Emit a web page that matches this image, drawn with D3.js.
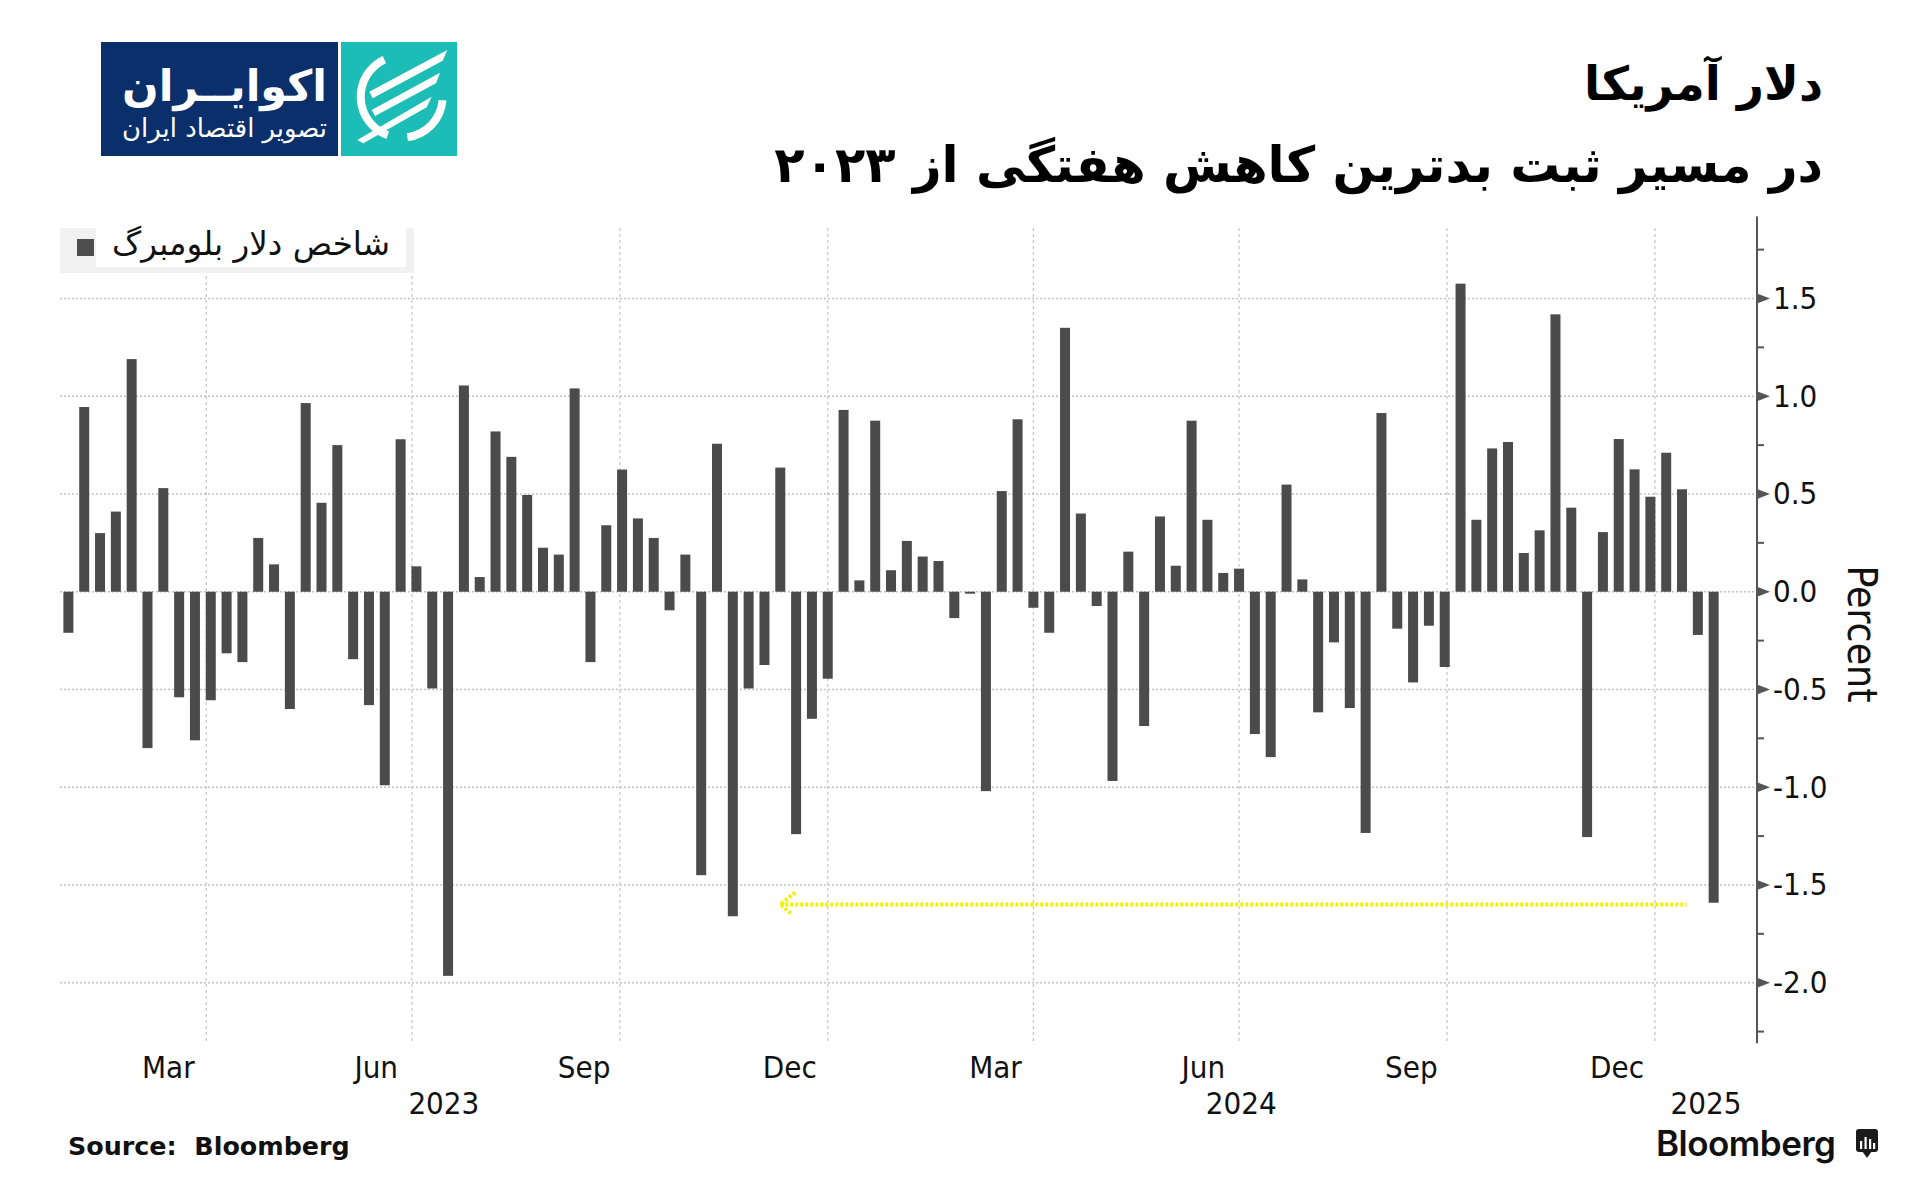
<!DOCTYPE html>
<html><head><meta charset="utf-8">
<script src="https://cdn.jsdelivr.net/npm/d3@7"></script>
<style>
html,body{margin:0;padding:0;background:#fff;}
svg{display:block;}
</style></head>
<body>
<svg id="chart" width="1920" height="1188"></svg>
<script>
// ---------------- data ----------------
const titleLine1 = "دلار آمریکا";
const titleLine2 = "در مسیر ثبت بدترین کاهش هفتگی از ۲۰۲۳";
const legendLabel = "شاخص دلار بلومبرگ";
const brandName = "اکوایــران";
const brandTagline = "تصویر اقتصاد ایران";
const sourceText = "Source:  Bloomberg";
const axisTitle = "Percent";
const brandMark = "Bloomberg";

// weekly change of the Bloomberg Dollar Spot Index, percent (first week below, one value per week)
const firstWeek = "2023-01-30";
const weeklyChange = [
  -0.21, 0.945, 0.30, 0.41, 1.19, -0.80, 0.53, -0.54, -0.76, -0.555,
  -0.315, -0.36, 0.275, 0.14, -0.60, 0.965, 0.455, 0.75, -0.345, -0.58,
  -0.99, 0.78, 0.13, -0.495, -1.965, 1.055, 0.075, 0.82, 0.69, 0.495,
  0.225, 0.19, 1.04, -0.36, 0.34, 0.625, 0.375, 0.275, -0.095, 0.19,
  -1.45, 0.757, -1.66, -0.495, -0.375, 0.635, -1.24, -0.65, -0.445, 0.93,
  0.058, 0.875, 0.11, 0.26, 0.18, 0.157, -0.135, -0.01, -1.02, 0.515,
  0.882, -0.082, -0.21, 1.35, 0.40, -0.073, -0.968, 0.205, -0.687, 0.385,
  0.133, 0.875, 0.368, 0.096, 0.118, -0.728, -0.846, 0.548, 0.063, -0.617,
  -0.259, -0.595, -1.234, 0.914, -0.189, -0.464, -0.174, -0.385, 1.576, 0.368,
  0.733, 0.766, 0.198, 0.314, 1.419, 0.43, -1.255, 0.305, 0.781, 0.626,
  0.486, 0.711, 0.524, -0.221, -1.591
];

const yTicks = [-2, -1.5, -1, -0.5, 0, 0.5, 1, 1.5];
const yMinorTicks = [-2.25, -1.75, -1.25, -0.75, -0.25, 0.25, 0.75, 1.25, 1.75];
const monthTicks = ["2023-03-15","2023-06-15","2023-09-15","2023-12-15","2024-03-15","2024-06-15","2024-09-15","2024-12-15"];
const quarterLines = ["2023-04-01","2023-07-01","2023-10-01","2024-01-01","2024-04-01","2024-07-01","2024-10-01","2025-01-01"];
const years = [2023, 2024, 2025];

const annotationLevel = -1.6;
const annotationFrom = "2023-12-11";
const annotationTo = "2025-01-15";

// ---------------- layout ----------------
const plotLeft = 60, axisX = 1757;
const gridTop = 228, plotBottom = 1043.3;

const svg = d3.select("#chart");

const x = d3.scaleUtc()
  .domain([new Date("2023-01-01"), new Date("2025-01-01")])
  .range([2.85, 1654.9]);
const y = d3.scaleLinear().domain([-2.31, 1.9]).range([1043.3, 220.3]);

const start = new Date(firstWeek);
const data = weeklyChange.map((v, i) => ({date: d3.utcDay.offset(start, 7 * i), value: v}));

const condensed = "'DejaVu Sans Condensed', 'DejaVu Sans', sans-serif";
const persian = "'DejaVu Sans', sans-serif";

function fitText(t, targetW, anchorX, side) {
  let fs = parseFloat(t.attr("font-size"));
  const w = t.node().getBBox().width;
  if (w > 0) { fs = fs * targetW / w; t.attr("font-size", fs); }
  const bb = t.node().getBBox();
  const cur = side === "right" ? bb.x + bb.width : bb.x;
  t.attr("x", parseFloat(t.attr("x")) + (anchorX - cur));
}

// ---------------- gridlines ----------------
const grid = svg.append("g");
grid.selectAll("line.h").data(yTicks).join("line")
  .attr("x1", plotLeft).attr("x2", axisX)
  .attr("y1", d => y(d)).attr("y2", d => y(d))
  .attr("stroke", "#c2c2c2").attr("stroke-width", 1.4).attr("stroke-dasharray", "2,2");
grid.selectAll("line.v").data(quarterLines).join("line")
  .attr("x1", d => x(new Date(d))).attr("x2", d => x(new Date(d)))
  .attr("y1", gridTop).attr("y2", plotBottom)
  .attr("stroke", "#c4c4c4").attr("stroke-width", 1.2).attr("stroke-dasharray", "3,3");

// ---------------- bars ----------------
const bw = 10;
svg.append("g").selectAll("rect").data(data).join("rect")
  .attr("x", d => x(d.date) - bw / 2)
  .attr("width", bw)
  .attr("y", d => y(Math.max(0, d.value)))
  .attr("height", d => Math.max(1, Math.abs(y(d.value) - y(0))))
  .attr("fill", "#4b4b4b");

// ---------------- annotation arrow ----------------
const ay = y(annotationLevel);
const ax0 = x(new Date(annotationFrom)), ax1 = x(new Date(annotationTo));
const ann = svg.append("g").attr("stroke", "#f2f200").attr("stroke-width", 4)
  .attr("stroke-dasharray", "3,2").attr("fill", "none");
ann.append("line").attr("x1", ax0).attr("x2", ax1).attr("y1", ay).attr("y2", ay);
ann.append("path").attr("d", `M${ax0 + 15},${ay - 12}L${ax0},${ay}L${ax0 + 12},${ay + 10}`);

// ---------------- y axis ----------------
const yAxis = d3.axisRight(y).tickValues(yTicks).tickSize(0).tickPadding(16)
  .tickFormat(d => d3.format(".1f")(d).replace("−", "-"));
const gy = svg.append("g").attr("transform", `translate(${axisX},0)`).call(yAxis);
gy.select(".domain").remove();
gy.selectAll("text").attr("font-family", condensed).attr("font-size", 31).attr("fill", "#111");
gy.append("line").attr("x1", 0).attr("x2", 0).attr("y1", y(1.92)).attr("y2", y(-2.31))
  .attr("stroke", "#555").attr("stroke-width", 2);
gy.selectAll("path.tri").data(yTicks).join("path").attr("class", "tri")
  .attr("d", d => `M0,${y(d) - 5}L13,${y(d)}L0,${y(d) + 5}Z`).attr("fill", "#555");
gy.selectAll("line.minor").data(yMinorTicks).join("line").attr("class", "minor")
  .attr("x1", 0).attr("x2", 7).attr("y1", d => y(d)).attr("y2", d => y(d))
  .attr("stroke", "#555").attr("stroke-width", 2);

const pt = svg.append("text").text(axisTitle)
  .attr("x", 0).attr("y", 0).attr("font-family", condensed).attr("font-size", 36)
  .attr("fill", "#111").attr("text-anchor", "middle").attr("dominant-baseline", "central")
  .attr("transform", `translate(1862,634) rotate(90)`);
{
  const w = pt.node().getBBox().width;
  pt.attr("font-size", 36 * 137 / w);
}

// ---------------- x axis ----------------
const xAxis = d3.axisBottom(x).tickValues(monthTicks.map(d => new Date(d)))
  .tickSize(0).tickPadding(0).tickFormat(d3.utcFormat("%b"));
const gx = svg.append("g").attr("transform", `translate(0,1055)`).call(xAxis);
gx.select(".domain").remove();
gx.selectAll("text").attr("font-family", condensed).attr("font-size", 31).attr("fill", "#111")
  .attr("dy", "0.74em");

svg.append("g").selectAll("text").data(years).join("text")
  .attr("x", d => {
    const a = Math.max(plotLeft, x(new Date(`${d}-01-01`)));
    const b = Math.min(axisX, x(new Date(`${d + 1}-01-01`)));
    return (a + b) / 2;
  })
  .attr("y", 1114).attr("text-anchor", "middle")
  .attr("font-family", condensed).attr("font-size", 31).attr("fill", "#111")
  .text(d => d);

// ---------------- legend ----------------
const lg = svg.append("g");
lg.append("rect").attr("x", 60).attr("y", 228).attr("width", 354).attr("height", 45).attr("fill", "#f1f1f1");
lg.append("rect").attr("x", 96).attr("y", 228).attr("width", 310).attr("height", 39).attr("fill", "#ffffff");
lg.append("rect").attr("x", 77).attr("y", 239).attr("width", 17).attr("height", 17).attr("fill", "#4d4d4d");
const lt = lg.append("text").text(legendLabel).attr("x", 390).attr("y", 255)
  .attr("font-family", persian).attr("font-size", 28).attr("fill", "#111").attr("direction", "rtl");
fitText(lt, 278, 390, "right");

// ---------------- titles ----------------
const t1 = svg.append("text").text(titleLine1).attr("x", 1823).attr("y", 100)
  .attr("font-family", persian).attr("font-weight", "bold").attr("font-size", 44)
  .attr("fill", "#000").attr("direction", "rtl");
fitText(t1, 239, 1823, "right");
const t2 = svg.append("text").text(titleLine2).attr("x", 1823).attr("y", 182)
  .attr("font-family", persian).attr("font-weight", "bold").attr("font-size", 44)
  .attr("fill", "#000").attr("direction", "rtl");
fitText(t2, 1049, 1823, "right");

// ---------------- brand logo ----------------
const logo = svg.append("g");
logo.append("rect").attr("x", 101).attr("y", 42).attr("width", 237).attr("height", 114).attr("fill", "#0b2f6a");
logo.append("rect").attr("x", 341).attr("y", 42).attr("width", 116).attr("height", 114).attr("fill", "#1cbdb6");
const bn = logo.append("text").text(brandName).attr("x", 327).attr("y", 101)
  .attr("font-family", persian).attr("font-weight", "bold").attr("font-size", 40)
  .attr("fill", "#fff").attr("direction", "rtl");
fitText(bn, 205, 327, "right");
const bt = logo.append("text").text(brandTagline).attr("x", 327).attr("y", 137)
  .attr("font-family", persian).attr("font-size", 18)
  .attr("fill", "#fff").attr("direction", "rtl");
fitText(bt, 205, 327, "right");
const arc = d3.arc();
const icon = logo.append("g").attr("transform", "translate(401.7,96.7)").attr("fill", "#fff");
icon.append("path").attr("d", arc({innerRadius: 37, outerRadius: 45, startAngle: 200 * Math.PI / 180, endAngle: 335 * Math.PI / 180}));
icon.append("path").attr("d", arc({innerRadius: 37, outerRadius: 45, startAngle: 95 * Math.PI / 180, endAngle: 172 * Math.PI / 180}));
const stripes = [
  [[369.3,91.7],[447.3,50],[442.7,60.7],[372.7,98.3]],
  [[371.7,110],[440,72.7],[436,83.3],[375,116]],
  [[357.3,140],[431.7,96.7],[426.7,107.3],[363.3,143.3]]
];
logo.selectAll("polygon").data(stripes).join("polygon")
  .attr("points", d => d.map(p => p.join(",")).join(" ")).attr("fill", "#fff");

// ---------------- footer ----------------
const src = svg.append("text").text(sourceText).attr("x", 68).attr("y", 1155)
  .attr("font-family", "'DejaVu Sans', sans-serif").attr("font-weight", "bold")
  .attr("font-size", 25).attr("fill", "#111").style("white-space", "pre");
fitText(src, 282, 68, "left");

const bm = svg.append("text").text(brandMark).attr("x", 1656).attr("y", 1156)
  .attr("font-family", "Inter, 'Liberation Sans', sans-serif").attr("font-weight", 600)
  .attr("font-size", 32).attr("fill", "#111").attr("letter-spacing", -0.5);
fitText(bm, 179, 1656, "left");
const ic = svg.append("g");
ic.append("rect").attr("x", 1856).attr("y", 1129).attr("width", 22).attr("height", 23).attr("rx", 3).attr("fill", "#1a1a1a");
ic.append("path").attr("d", "M1862,1151L1867,1158L1872,1151Z").attr("fill", "#1a1a1a");
[[1860, 1141, 8], [1864.5, 1137, 12], [1869, 1139, 10], [1873, 1143, 6]].forEach(b =>
  ic.append("rect").attr("x", b[0]).attr("y", b[1]).attr("width", 2.2).attr("height", b[2]).attr("fill", "#fff"));
</script>
</body></html>
